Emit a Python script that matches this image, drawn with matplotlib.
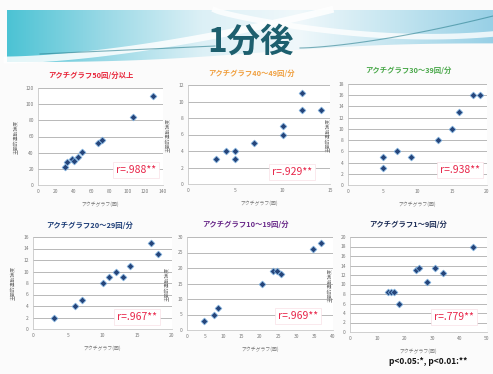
import numpy as np
import matplotlib.pyplot as plt
from matplotlib.path import Path
from matplotlib.patches import PathPatch
from matplotlib.colors import LinearSegmentedColormap

plt.rcParams['font.family'] = ['Noto Sans CJK JP', 'DejaVu Sans']

W, H = 493, 374

# ---- data: one block per panel ----
titles = ["アクチグラフ50回/分以上", "アクチグラフ40〜49回/分", "アクチグラフ30〜39回/分",
          "アクチグラフ20〜29回/分", "アクチグラフ10〜19回/分", "アクチグラフ1〜9回/分"]
title_colors = ["#e8283c", "#f0a040", "#4aa84a", "#1f3f78", "#6a2a8a", "#1f2f58"]
r_labels = ["r=.988**", "r=.929**", "r=.938**", "r=.967**", "r=.969**", "r=.779**"]

x1 = [30, 33, 38, 40, 45, 49, 67, 72, 106, 129]
y1 = [22, 28, 32, 30, 35, 41, 52, 56, 84, 110]
x2 = [3, 4, 5, 5, 7, 10, 10, 12, 12, 14]
y2 = [3, 4, 4, 3, 5, 6, 7, 9, 11, 9]
x3 = [5, 5, 7, 9, 13, 15, 16, 18, 19]
y3 = [5, 3, 6, 5, 8, 10, 13, 16, 16]
x4 = [3, 6, 7, 10, 11, 12, 13, 14, 17, 18]
y4 = [2, 4, 5, 8, 9, 10, 9, 11, 15, 13]
x5 = [4.7, 7.5, 8.6, 20.6, 23.6, 24.6, 25.8, 34.4, 36.7]
y5 = [3, 5, 7, 15, 19, 19, 18, 26, 28]
x6 = [14, 15, 16, 18, 24, 25, 28, 31, 34, 45]
y6 = [8.5, 8.5, 8.5, 6, 13, 13.5, 10.5, 13.5, 12.5, 18]

xs = [x1, x2, x3, x4, x5, x6]
ys = [y1, y2, y3, y4, y5, y6]
x_ticks = [np.arange(0, 141, 20), np.arange(0, 16, 5), np.arange(0, 21, 5),
           np.arange(0, 21, 5), np.arange(0, 41, 5), np.arange(0, 51, 10)]
y_ticks = [np.arange(0, 121, 20), np.arange(0, 13, 2), np.arange(0, 19, 2),
           np.arange(0, 17, 2), np.arange(0, 31, 5), np.arange(0, 21, 2)]

# plot areas in pixels: left, right, top, bottom
boxes = [(38, 163, 88, 185), (188, 330, 85, 184), (348, 487, 84, 185),
         (33, 172, 237, 329), (187, 333, 237, 330), (350, 487, 237, 332)]
title_pos = [(91, 75), (251, 73), (408, 70), (90, 225), (245, 224), (408, 224)]
r_pos = [(136, 170), (292, 172), (460, 170), (137, 317), (298, 316), (454, 317)]

fig = plt.figure(figsize=(W / 100, H / 100), dpi=100)
fig.patch.set_facecolor("#fbfbfb")

# ---- header band ----
bg = fig.add_axes([0, 0, 1, 1])
bg.set_xlim(0, W)
bg.set_ylim(H, 0)
bg.axis("off")

band_cmap = LinearSegmentedColormap.from_list(
    "band", ["#4cc3d4", "#9ad9e6", "#dcf0f6", "#f0f8fb", "#c4e5f0", "#98d0e6"])
grad = np.tile(np.linspace(0, 1, 256), (20, 1))
im = bg.imshow(grad, cmap=band_cmap, extent=(7, W, 64, 10), aspect="auto", zorder=0)
tx = np.linspace(7, W, 100)
bottom = 62 - 18 * (tx - 7) / (W - 7) + 3 * np.sin((tx - 7) / 80)
verts = [(7, 10), (W, 10)] + list(zip(tx[::-1], bottom[::-1])) + [(7, 10)]
clip = PathPatch(Path(verts), transform=bg.transData, facecolor="none", edgecolor="none")
bg.add_patch(clip)
im.set_clip_path(clip)

# swooshes
sx = np.linspace(7, 330, 100)
bg.plot(sx, 60 - 50 * ((sx - 7) / 323) ** 1.6, color="white", lw=5, alpha=0.85, zorder=1)
sx2 = np.linspace(215, W, 100)
bg.plot(sx2, 10 + 32 * np.sin(np.pi * (sx2 - 215) / (2 * (W - 215))) ** 0.8 - 8 * ((sx2 - 215) / (W - 215)) ** 3,
        color="white", lw=4, alpha=0.8, zorder=1)
lx = np.linspace(40, 215, 60)
bg.plot(lx, 54 - 8 * (lx - 40) / 175, color="#2a7f8f", lw=0.8, alpha=0.6, zorder=1)
lx2 = np.linspace(300, W, 60)
bg.plot(lx2, 48 - 32 * ((lx2 - 300) / (W - 300)) ** 1.5, color="#2a7f8f", lw=0.8, alpha=0.6, zorder=1)

bg.text(250, 42, "1分後", ha="center", va="center", fontsize=24, fontweight="bold",
        color="#1d5f6e", zorder=3)

# ---- scatter panels ----
for i in range(6):
    l, r, t, b = boxes[i]
    ax = fig.add_axes([l / W, 1 - b / H, (r - l) / W, (b - t) / H])
    ax.set_facecolor("white")
    ax.scatter(xs[i], ys[i], marker="D", s=12, color="#26457a", zorder=3,
               edgecolors="#7fb2e0", linewidths=0.5)
    ax.set_xlim(x_ticks[i][0], x_ticks[i][-1])
    ax.set_ylim(y_ticks[i][0], y_ticks[i][-1])
    ax.set_xticks(x_ticks[i])
    ax.set_yticks(y_ticks[i])
    ax.tick_params(labelsize=3.5, colors="#777777", length=0, pad=3)
    ax.grid(axis="y", color="#b8b8b8", lw=0.7)
    for s in ["top", "right"]:
        ax.spines[s].set_visible(False)
    for s in ["left", "bottom"]:
        ax.spines[s].set_color("#c8c8c8")
        ax.spines[s].set_linewidth(0.6)
    ax.set_axisbelow(True)
    ax.set_xlabel("アクチグラフ(回)", fontsize=3.5, color="#777777", labelpad=5)
    ax.set_ylabel("主観的運動強度", fontsize=3.5, color="#777777", labelpad=5)

# ---- overlay for titles and coefficients ----
top = fig.add_axes([0, 0, 1, 1])
top.set_xlim(0, W)
top.set_ylim(H, 0)
top.axis("off")
top.patch.set_alpha(0)

for i in range(6):
    top.text(title_pos[i][0], title_pos[i][1], titles[i], ha="center", va="center",
             fontsize=5.3, fontweight="bold", color=title_colors[i])
    top.text(r_pos[i][0], r_pos[i][1], r_labels[i], ha="center", va="center",
             fontsize=7.5, color="#e8264a",
             bbox=dict(boxstyle="square,pad=0.25", facecolor="white", edgecolor="#f8e0e6", lw=0.5))

top.text(428, 362, "p<0.05:*, p<0.01:**", ha="center", va="center", fontsize=6,
         fontweight="bold", color="#111111")

fig.savefig("out.png", dpi=100)
